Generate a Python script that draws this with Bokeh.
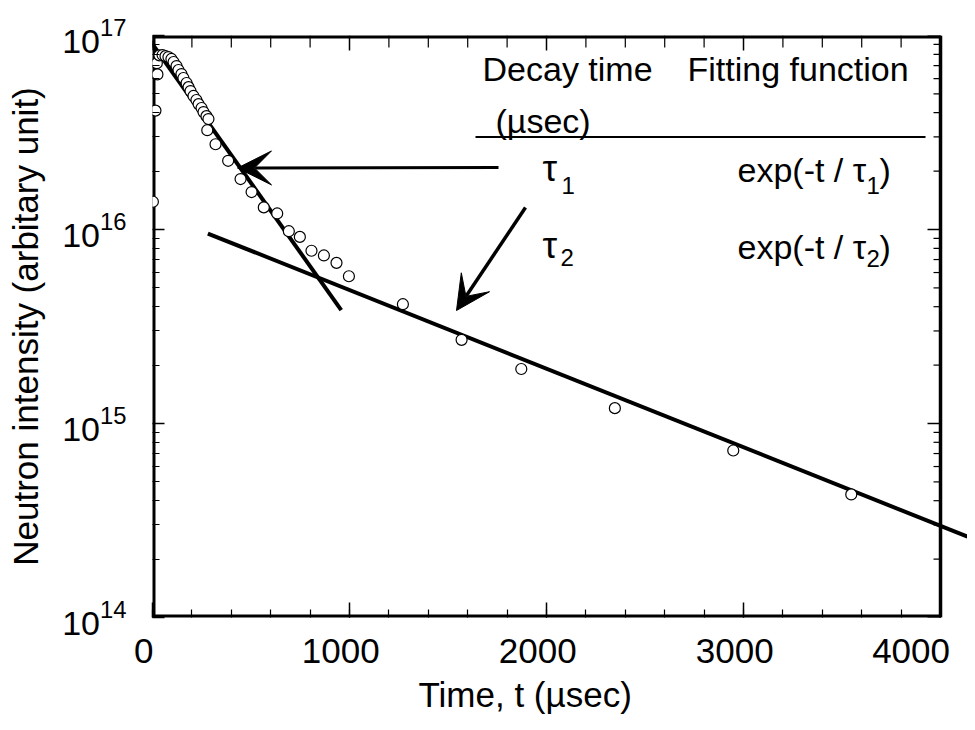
import numpy as np
from bokeh.plotting import figure
from bokeh.models import Range1d, FixedTicker, Label, Arrow, VeeHead, Title
from bokeh.embed import file_html
from bokeh.resources import INLINE

# ---------------- data ----------------
time_us = [2, 15, 22, 25, 35,
           51, 66, 81, 96, 107, 122, 132, 147, 157, 173, 183, 193, 208, 223, 234, 249, 259, 274, 284,
           278, 320, 384, 447, 503, 565, 633, 692, 748, 807, 870, 934, 997,
           1271, 1569, 1872, 2347, 2948, 3547]
intensity = [1.39e16, 4.1e16, 7.2e16, 6.3e16, 7.9e16,
             7.93e16, 7.83e16, 7.74e16, 7.57e16, 7.30e16, 6.96e16, 6.64e16, 6.33e16, 6.04e16, 5.69e16,
             5.42e16, 5.17e16, 4.88e16, 4.65e16, 4.43e16, 4.23e16, 4.03e16, 3.84e16, 3.71e16,
             3.25e16, 2.75e16, 2.26e16, 1.82e16, 1.56e16, 1.30e16, 1.21e16, 9.8e15, 9.16e15, 7.77e15,
             7.35e15, 6.73e15, 5.74e15,
             4.12e15, 2.70e15, 1.91e15, 1.20e15, 7.26e14, 4.31e14]

fit1_t = [-27, 958]          # exp(-t / tau1)
fit1_y = [9.86e16, 3.84e15]
fit2_t = [281, 4137]         # exp(-t / tau2)
fit2_y = [9.53e15, 2.61e14]

x_major = [0, 1000, 2000, 3000, 4000]
x_labels = ["0", "1000", "2000", "3000", "4000"]
x_minor = list(range(0, 4001, 200))
y_major = [1e14, 1e15, 1e16, 1e17]
y_minor = [m * 10.0 ** e for e in (14, 15, 16) for m in range(2, 10)]

X_MIN, X_MAX, X_VIEW = 0, 4000, 4137
Y_MIN, Y_MAX = 1e14, 1e17

FONT = "Liberation Sans"

# ---------------- figure ----------------
W, H = 967, 722
p = figure(width=W, height=H, output_backend="svg", toolbar_location=None,
           x_range=Range1d(X_MIN, X_VIEW), y_range=Range1d(Y_MIN, Y_MAX),
           y_axis_type="log", min_border_left=152, min_border_right=0,
           min_border_top=35, min_border_bottom=105)
p.outline_line_color = None
p.grid.visible = False
p.background_fill_color = "white"

# pixel helpers (position in the picture -> data coordinates)
PX0, PXS = 152.0, 0.197        # px of t=0, px per usec
PY17, PYD = 35.0, 194.0        # px of 1e17, px per decade


def px2x(px):
    return (px - PX0) / PXS


def py2y(py):
    return 10 ** (17 - (py - PY17) / PYD)


for ax in (p.xaxis[0], p.yaxis[0]):
    ax.axis_line_color = None
    ax.major_tick_out = 0
    ax.minor_tick_out = 0
    ax.major_tick_line_width = 1.5
    ax.minor_tick_line_width = 1.2
    ax.major_label_text_font = FONT
    ax.major_label_text_color = "black"
    ax.axis_label_text_font = FONT
    ax.axis_label_text_font_style = "normal"
    ax.axis_label_text_color = "black"

p.xaxis.ticker = FixedTicker(ticks=x_major, minor_ticks=x_minor)
# labels sit slightly left of their ticks in the original
p.xaxis.major_label_overrides = {t: s + "\u2002" for t, s in zip(x_major, x_labels)}
p.xaxis.major_label_text_font_size = "35px"
p.xaxis.major_tick_in = 15
p.xaxis.minor_tick_in = 8
p.xaxis.major_label_standoff = 13

p.yaxis.ticker = FixedTicker(ticks=y_major, minor_ticks=y_minor)
p.yaxis.major_label_text_font_size = "34px"
p.yaxis.major_tick_in = 12
p.yaxis.minor_tick_in = 7
p.yaxis.major_label_standoff = 26
p.yaxis.axis_label = "Neutron intensity (arbitary unit)"
p.yaxis.axis_label_text_font_size = "35px"
p.yaxis.axis_label_standoff = 14

# x axis title, placed under the boxed area (t = 0 ... 4000)
p.add_layout(Title(text="Time, t (µsec)", text_font=FONT, text_font_size="35px",
                   text_font_style="normal", text_color="black", align="left",
                   offset=266, standoff=0), "below")

# frame (left/top/bottom at frame edges, right edge at t = 4000)
p.line([X_MAX, X_MIN, X_MIN, X_MAX], [Y_MAX, Y_MAX, Y_MIN, Y_MIN], line_color="black", line_width=6)
p.line([X_MAX, X_MAX], [Y_MIN, Y_MAX], line_color="black", line_width=3.5)

# top ticks
top_major = [t for t in x_minor if t in x_major]
top_minor = [t for t in x_minor if t not in x_major]
p.segment(x0=top_major, y0=[Y_MAX] * len(top_major), x1=top_major,
          y1=[Y_MAX * 10 ** (-15 / PYD)] * len(top_major), line_color="black", line_width=1.5)
p.segment(x0=top_minor, y0=[Y_MAX] * len(top_minor), x1=top_minor,
          y1=[Y_MAX * 10 ** (-12 / PYD)] * len(top_minor), line_color="black", line_width=1.2)
# right ticks
p.segment(x0=[X_MAX] * len(y_major), y0=y_major, x1=[X_MAX - 13 / PXS] * len(y_major), y1=y_major,
          line_color="black", line_width=1.5)
p.segment(x0=[X_MAX] * len(y_minor), y0=y_minor, x1=[X_MAX - 7 / PXS] * len(y_minor), y1=y_minor,
          line_color="black", line_width=1.2)

# fitted lines
p.line(fit1_t, fit1_y, line_color="black", line_width=4)
p.line(fit2_t, fit2_y, line_color="black", line_width=4)

# data points
p.scatter(time_us, intensity, marker="circle", size=11, fill_color="white",
          line_color="black", line_width=1.2)


# table texts
def lab(txt, px, py, size="33px"):
    p.add_layout(Label(x=px2x(px), y=py2y(py), text=txt, text_font=FONT, text_font_size=size,
                       text_color="black", text_baseline="alphabetic", text_align="left"))


lab("Decay time", 482, 68, "34px")
lab("Fitting function", 687, 68, "34px")
lab("(µsec)", 495, 120, "34px")
p.line([px2x(475), px2x(925)], [py2y(136.5)] * 2, line_color="black", line_width=2)

lab("τ", 542, 168, "37px")
lab("1", 561, 185, "24px")
lab("τ", 542, 245, "37px")
lab("2", 560, 257, "24px")

lab("exp(-t / τ", 737, 169, "34px")
lab("1", 866, 185, "24px")
lab(")", 879, 169, "34px")
lab("exp(-t / τ", 737, 246, "34px")
lab("2", 866, 258, "24px")
lab(")", 879, 246, "34px")

# arrows
p.add_layout(Arrow(end=VeeHead(size=34, fill_color="black", line_color="black"),
                   x_start=px2x(498), y_start=py2y(167), x_end=px2x(237), y_end=py2y(167.5),
                   line_color="black", line_width=3))
p.add_layout(Arrow(end=VeeHead(size=34, fill_color="black", line_color="black"),
                   x_start=px2x(525), y_start=py2y(207), x_end=px2x(456), y_end=py2y(310),
                   line_color="black", line_width=3.5))

open("out.html", "w").write(file_html(p, INLINE))
